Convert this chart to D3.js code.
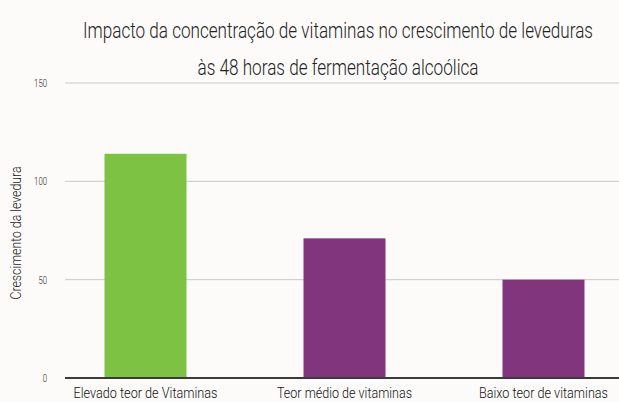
<!DOCTYPE html>
<html>
<head>
<meta charset="utf-8">
<script src="https://cdn.jsdelivr.net/npm/d3@7"></script>
<style>
  body { margin: 0; background: #fcfbfa; }
  svg { display: block; font-family: Roboto, sans-serif; font-weight: 300; }
</style>
</head>
<body>
<script>
const categories = ['Elevado teor de Vitaminas', 'Teor médio de vitaminas', 'Baixo teor de vitaminas'];
const values = [114, 71, 50];
const colors = ['#7dc242', '#80357c', '#80357c'];
const yTicks = [0, 50, 100, 150];
const titleLines = ['Impacto da concentração de vitaminas no crescimento de leveduras', 'às 48 horas de fermentação alcoólica'];

const W = 619, H = 402;
const PLOT = { left: 65, right: 619, top: 83, bottom: 378 };

const svg = d3.select('body').append('svg').attr('width', W).attr('height', H);

const x = d3.scaleBand().domain(categories).range([46, 643]).paddingInner(0.588).paddingOuter(0.294);
const y = d3.scaleLinear().domain([0, 150]).range([PLOT.bottom, PLOT.top]);

// gridlines
svg.append('g')
  .selectAll('line')
  .data(yTicks.filter(d => d > 0))
  .join('line')
  .attr('x1', PLOT.left).attr('x2', PLOT.right)
  .attr('y1', d => y(d)).attr('y2', d => y(d))
  .attr('stroke', '#c8c8c8').attr('stroke-width', 1);

// y tick labels
svg.append('g')
  .selectAll('text')
  .data(yTicks)
  .join('text')
  .attr('x', 47).attr('y', d => y(d) + 4)
  .attr('text-anchor', 'end')
  .attr('font-size', 11)
  .attr('fill', '#222')
  .attr('textLength', d => String(d).length * 4.3)
  .attr('lengthAdjust', 'spacingAndGlyphs')
  .text(d => d);

// bars
svg.append('g')
  .selectAll('rect')
  .data(values)
  .join('rect')
  .attr('x', (d, i) => x(categories[i]))
  .attr('width', x.bandwidth())
  .attr('y', d => y(d))
  .attr('height', d => y(0) - y(d))
  .attr('fill', (d, i) => colors[i]);

// base axis line
svg.append('line')
  .attr('x1', PLOT.left).attr('x2', PLOT.right)
  .attr('y1', y(0)).attr('y2', y(0))
  .attr('stroke', '#3a3a3a').attr('stroke-width', 2);

// x labels
const labelWidths = [144, 135, 129];
svg.append('g')
  .selectAll('text')
  .data(categories)
  .join('text')
  .attr('x', d => x(d) + x.bandwidth() / 2)
  .attr('y', 398)
  .attr('text-anchor', 'middle')
  .attr('font-size', 14)
  .attr('fill', '#111')
  .attr('textLength', (d, i) => labelWidths[i])
  .attr('lengthAdjust', 'spacingAndGlyphs')
  .text(d => d);

// y axis title
svg.append('text')
  .attr('transform', 'translate(21,233) rotate(-90)')
  .attr('text-anchor', 'middle')
  .attr('font-size', 14)
  .attr('fill', '#222')
  .attr('textLength', 133)
  .attr('lengthAdjust', 'spacingAndGlyphs')
  .text('Crescimento da levedura');

// title
const titleWidths = [510, 281];
svg.append('g')
  .selectAll('text')
  .data(titleLines)
  .join('text')
  .attr('x', 338)
  .attr('y', (d, i) => 38 + i * 37)
  .attr('text-anchor', 'middle')
  .attr('font-size', 22)
  .attr('fill', '#222')
  .attr('textLength', (d, i) => titleWidths[i])
  .attr('lengthAdjust', 'spacingAndGlyphs')
  .text(d => d);
</script>
</body>
</html>
